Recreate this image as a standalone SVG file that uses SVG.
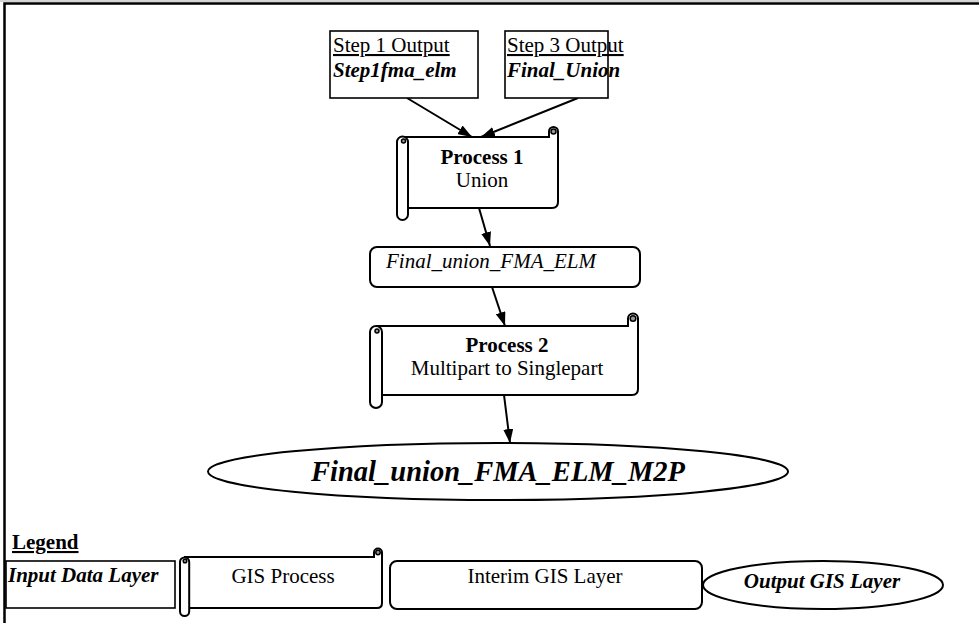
<svg xmlns="http://www.w3.org/2000/svg" width="979" height="623" viewBox="0 0 979 623" font-family="'Liberation Serif', Tinos, 'Times New Roman', 'DejaVu Serif', serif">
  <defs>
    <marker id="arrow" viewBox="0 0 14 10" refX="14" refY="5" markerWidth="14" markerHeight="10" markerUnits="userSpaceOnUse" orient="auto">
      <path d="M0,0 L14,5 L0,10 Z" fill="#000"/>
    </marker>
  </defs>
  <style>
    text { font-family: 'Liberation Serif', Tinos, 'Times New Roman', 'DejaVu Serif', serif; font-size: 21px; fill: #000; }
    .b { font-weight: bold; }
    .i { font-style: italic; }
    .bi { font-weight: bold; font-style: italic; }
    .shape { fill: #fff; stroke: #000; stroke-width: 2; }
    .thin { fill: #fff; stroke: #000; stroke-width: 1.6; }
    .curl { fill: #999; stroke: #000; stroke-width: 1.5; }
    .edge { stroke: #000; stroke-width: 2; fill: none; marker-end: url(#arrow); }
    .frame { stroke: #000; stroke-width: 2.5; fill: none; }
  </style>

  <rect width="979" height="623" fill="#fff"/>

  <!-- page frame -->
  <line x1="0" y1="1" x2="979" y2="1" stroke="#aaa" stroke-width="1"/>
  <path class="frame" d="M4.5,623 V3.5 H979"/>

  <!-- connectors -->
  <g id="connectors">
    <line class="edge" x1="407" y1="98" x2="472" y2="137"/>
    <line class="edge" x1="578" y1="98" x2="481" y2="137"/>
    <line class="edge" x1="479" y1="208" x2="490" y2="246"/>
    <line class="edge" x1="492" y1="287" x2="505" y2="326"/>
    <line class="edge" x1="504" y1="395" x2="510" y2="443"/>
  </g>

  <!-- Step 1 output layer -->
  <g id="step1">
    <rect class="thin" x="330" y="31" width="148" height="67"/>
    <text x="333" y="52" text-decoration="underline">Step 1 Output</text>
    <text class="bi" x="333" y="77">Step1fma_elm</text>
  </g>

  <!-- Step 3 output layer -->
  <g id="step3">
    <rect class="thin" x="505" y="31" width="103" height="67"/>
    <text x="507" y="52" text-decoration="underline">Step 3 Output</text>
    <text class="bi" x="507" y="77">Final_Union</text>
  </g>

  <!-- Process 1 scroll -->
  <g id="process1">
    <path class="shape" d="M403,137 H549 V131.5 A4.5,4.5 0 0 1 558,131.5 V202 Q558,208 552,208 H408"/>
    <circle class="curl" cx="553.5" cy="131.5" r="2.5"/>
    <path class="shape" d="M397,142 A5.5,5.5 0 0 1 408,142 V214.5 A5.5,5.5 0 0 1 397,214.5 Z"/>
    <circle class="curl" cx="403.5" cy="141" r="2" fill="#fff"/>
    <text class="b" x="482" y="164" text-anchor="middle">Process 1</text>
    <text x="482" y="187" text-anchor="middle">Union</text>
  </g>

  <!-- interim layer -->
  <g id="interim">
    <rect class="shape" x="370" y="247" width="270" height="40" rx="7"/>
    <text class="i" x="491" y="268" text-anchor="middle">Final_union_FMA_ELM</text>
  </g>

  <!-- Process 2 scroll -->
  <g id="process2">
    <path class="shape" d="M376,326 H628 V318.5 A5,5 0 0 1 638,318.5 V389 Q638,395 632,395 H382"/>
    <circle class="curl" cx="633" cy="318.5" r="2.8"/>
    <path class="shape" d="M370,332 A6,6 0 0 1 382,332 V402 A6,6 0 0 1 370,402 Z"/>
    <circle class="curl" cx="377" cy="331" r="2" fill="#fff"/>
    <text class="b" x="507" y="352" text-anchor="middle">Process 2</text>
    <text x="507" y="375" text-anchor="middle">Multipart to Singlepart</text>
  </g>

  <!-- output layer -->
  <g id="output">
    <ellipse class="shape" cx="498" cy="471.5" rx="290" ry="28.5"/>
    <text class="bi" x="498" y="481" text-anchor="middle" style="font-size:28.5px">Final_union_FMA_ELM_M2P</text>
  </g>

  <!-- legend -->
  <g id="legend">
    <text class="b" x="12" y="549" text-decoration="underline">Legend</text>
  </g>
  <g id="legend-input">
    <rect class="thin" x="6" y="561" width="169" height="47"/>
    <text class="bi" x="8" y="582">Input Data Layer</text>
  </g>
  <g id="legend-process">
    <path class="shape" d="M184,557 H374 V552.5 A4,4 0 0 1 382,552.5 V603 Q382,608 377,608 H189"/>
    <circle class="curl" cx="378" cy="552.5" r="2.2"/>
    <path class="shape" d="M180,562 A4.6,4.6 0 0 1 189.2,562 V611.5 A4.6,4.6 0 0 1 180,611.5 Z"/>
    <circle class="curl" cx="185" cy="561" r="1.8" fill="#fff"/>
    <text x="283" y="583" text-anchor="middle">GIS Process</text>
  </g>
  <g id="legend-interim">
    <rect class="shape" x="390" y="561" width="312" height="48" rx="7"/>
    <text x="545" y="583" text-anchor="middle">Interim GIS Layer</text>
  </g>
  <g id="legend-output">
    <ellipse class="shape" cx="823" cy="585" rx="120" ry="24"/>
    <text class="bi" x="822" y="588" text-anchor="middle">Output GIS Layer</text>
  </g>
</svg>
